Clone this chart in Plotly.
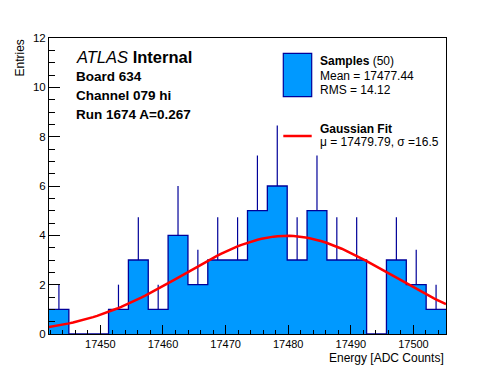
import numpy as np
import plotly.graph_objects as go

# ---- data ----
bin_low = 17441.8          # left edge of first bin
bin_width = 3.17
counts = [1, 0, 0, 1, 3, 1, 4, 2, 3, 3, 5, 6, 3, 5, 3, 3, 0, 3, 2, 1]
fit_mu = 17479.79
fit_sigma = 16.5
fit_amp = 3.98
x_range = [17441.8, 17505.2]
y_range = [0, 12]
header_lines = ["<i>ATLAS</i> <b>Internal</b>", "<b>Board 634</b>", "<b>Channel 079 hi</b>", "<b>Run 1674 A=0.267</b>"]
legend_hist = ["<b>Samples</b> (50)", "Mean = 17477.44", "RMS = 14.12"]
legend_fit = ["<b>Gaussian Fit</b>", "\u03bc = 17479.79, \u03c3 =16.5"]

FILL = "#0099ff"
EDGE = "#000099"
RED = "#ff0000"
FONT = "Liberation Sans, Arial, Helvetica, sans-serif"

n = len(counts)
edges = bin_low + bin_width * np.arange(n + 1)
centers = 0.5 * (edges[:-1] + edges[1:])

# step outline (histogram style)
step_x = list(edges[:-1]) + [edges[-1]]
step_y = list(counts) + [counts[-1]]

fig = go.Figure()
fig.add_trace(go.Scatter(
    x=step_x, y=step_y, mode="lines", line=dict(shape="hv", color=EDGE, width=1.3),
    fill="tozeroy", fillcolor=FILL, hoverinfo="skip", showlegend=False))

# upward error bars sqrt(N)
errs = np.sqrt(np.array(counts, dtype=float))
mask = np.array(counts) > 0
fig.add_trace(go.Scatter(
    x=centers[mask], y=np.array(counts)[mask], mode="markers",
    marker=dict(size=0.1, color=EDGE, opacity=0),
    error_y=dict(type="data", array=errs[mask], arrayminus=np.zeros(mask.sum()),
                 symmetric=False, width=0, thickness=1.2, color=EDGE),
    hoverinfo="skip", showlegend=False))

# gaussian fit curve from fit parameters
fx = np.linspace(x_range[0], x_range[1], 100)
fy = fit_amp * np.exp(-0.5 * ((fx - fit_mu) / fit_sigma) ** 2)
fig.add_trace(go.Scatter(x=fx, y=fy, mode="lines", line=dict(color=RED, width=2.5),
                         hoverinfo="skip", showlegend=False))

L, R, T, B = 49, 50, 38, 38
W, H = 496, 372
pw, ph = W - L - R, H - T - B


def px(xp):
    return (xp - L) / pw


def py(yp):
    return (H - B - yp) / ph


annotations = []
for txt, yy, size in zip(header_lines, [57, 76, 95, 114], [16.5, 13.5, 13.5, 13.5]):
    annotations.append(dict(text=txt, x=px(74), y=py(yy), xref="paper", yref="paper",
                            xanchor="left", yanchor="middle", showarrow=False,
                            font=dict(size=size, color="black", family=FONT)))
for txt, yy in zip(legend_hist + legend_fit, [61.3, 75.8, 90, 129.3, 141.7]):
    annotations.append(dict(text=txt, x=px(318), y=py(yy), xref="paper", yref="paper",
                            xanchor="left", yanchor="middle", showarrow=False,
                            font=dict(size=12, color="black", family=FONT)))
annotations.append(dict(text="Entries", x=px(19), y=py(37), xref="paper", yref="paper",
                        xanchor="center", yanchor="top", textangle=-90, showarrow=False,
                        font=dict(size=12, color="black", family=FONT)))
annotations.append(dict(text="Energy [ADC Counts]", x=1.0, y=py(357.5), xref="paper", yref="paper",
                        xanchor="right", yanchor="middle", showarrow=False,
                        font=dict(size=12, color="black", family=FONT)))

shapes = [
    dict(type="rect", xref="paper", yref="paper", x0=px(283.3), x1=px(311.7),
         y0=py(96.7), y1=py(53.3), fillcolor=FILL, line=dict(color=EDGE, width=1.2)),
    dict(type="line", xref="paper", yref="paper", x0=px(283.3), x1=px(311.7),
         y0=py(136), y1=py(136), line=dict(color=RED, width=2.5)),
]

fig.update_layout(
    width=W, height=H, margin=dict(l=L, r=R, t=T, b=B, autoexpand=False),
    paper_bgcolor="white", plot_bgcolor="white",
    font=dict(family=FONT, color="black", size=11),
    annotations=annotations, shapes=shapes, showlegend=False,
    xaxis=dict(range=x_range, showgrid=False, zeroline=False, showline=True, linecolor="black",
               linewidth=1, mirror=True, ticks="inside", ticklen=9, tickcolor="black",
               tick0=17450, dtick=10, tickformat="d", tickfont=dict(size=11), automargin=False,
               minor=dict(ticks="inside", ticklen=4.5, dtick=2, tickcolor="black", showgrid=False)),
    yaxis=dict(range=y_range, showgrid=False, zeroline=False, showline=True, linecolor="black",
               linewidth=1, mirror=True, ticks="inside", ticklen=11, tickcolor="black",
               dtick=2, tickfont=dict(size=11.5), automargin=False,
               minor=dict(ticks="inside", ticklen=5.5, dtick=0.5, tickcolor="black", showgrid=False)),
)

fig.write_html("out.html", config={"displayModeBar": False},
               post_script="document.body.style.margin='0';document.body.style.padding='0';")
